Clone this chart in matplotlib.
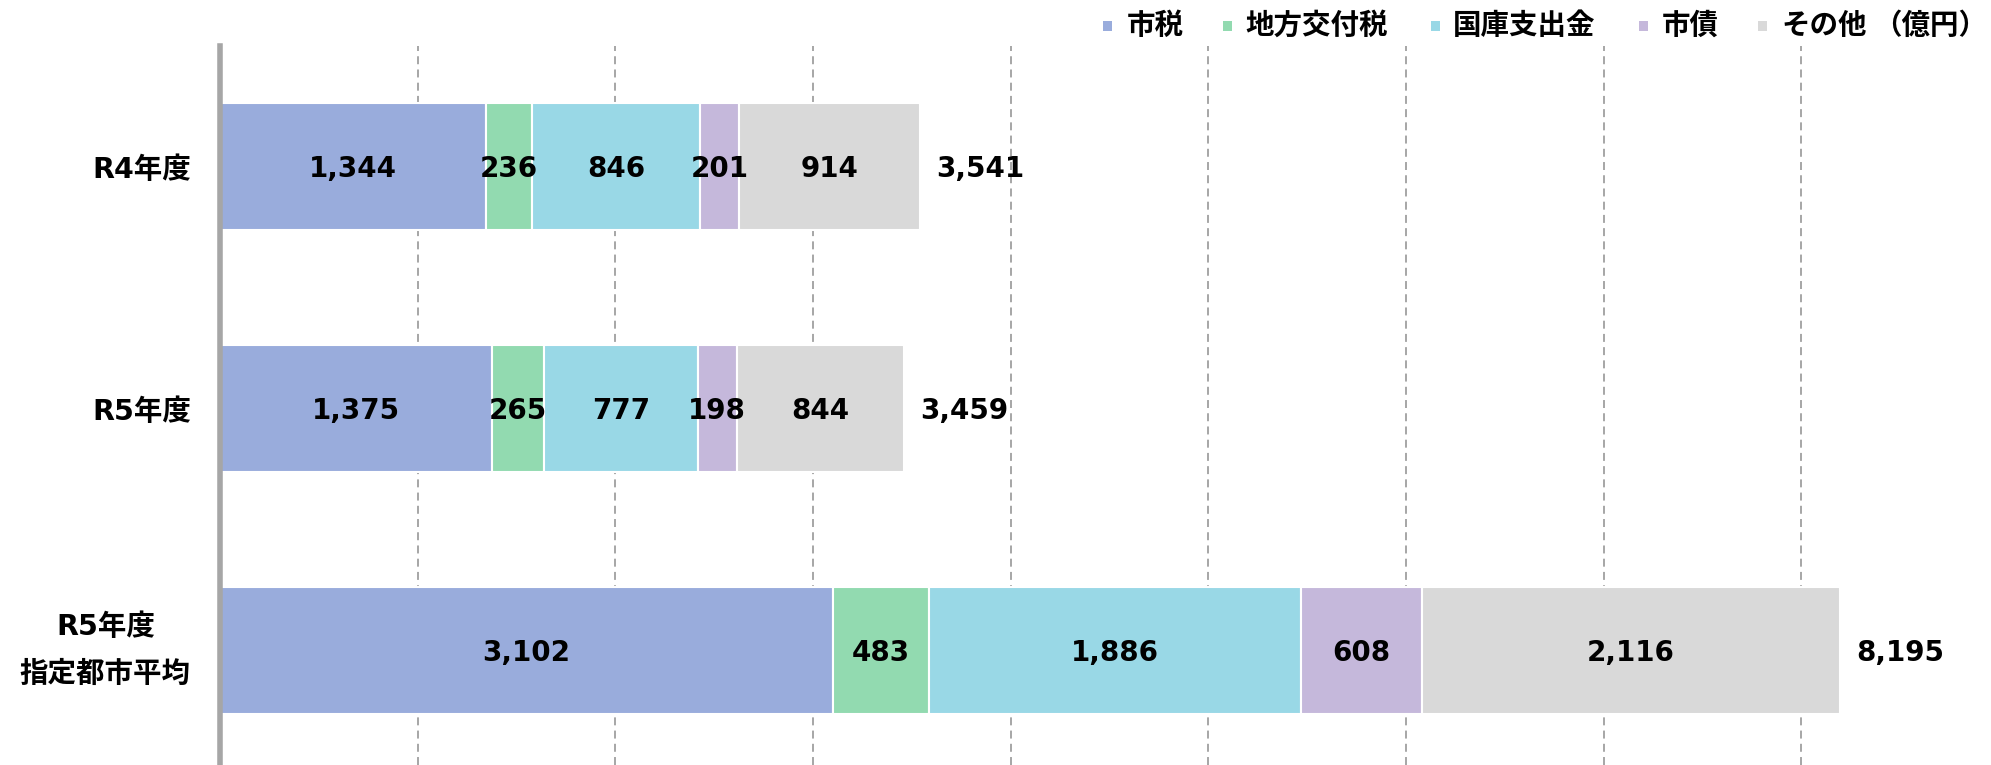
#
# Stacked horizontal bar chart of revenue breakdown (億円)
#

### Needed libraries ###

import matplotlib.pyplot as plt
from matplotlib.patches import Rectangle


### Data ###

categories = ['R4年度', 'R5年度', 'R5年度\n指定都市平均']

series_names = ['市税', '地方交付税', '国庫支出金', '市債', 'その他']

city_tax = [1344, 1375, 3102]
local_alloc_tax = [236, 265, 483]
national_subsidy = [846, 777, 1886]
city_bonds = [201, 198, 608]
other = [914, 844, 2116]

totals = [3541, 3459, 8195]

unit_label = '（億円）'


### Style ###

# DejaVu for the wide digits, Noto for the Japanese characters
plt.rcParams['font.family'] = ['DejaVu Sans', 'Noto Sans CJK JP']
plt.rcParams['font.weight'] = 'bold'

colors = ['#99ACDC', '#92DAB0', '#99D8E6', '#C5B8DB', '#D9D9D9']
value_size = 20
label_size = 20.5

W, H = 1991, 765


### Figure ###

fig = plt.figure(figsize=(W / 100, H / 100), dpi=100)
ax = fig.add_axes([220 / W, 0.0, 1 - 220 / W, 1 - 46 / H])

y = list(range(len(categories)))
bar_height = 0.526

# Stack the segments from the left
left = [0] * len(categories)
containers = []
all_series = [city_tax, local_alloc_tax, national_subsidy, city_bonds, other]
for values, color, name in zip(all_series, colors, series_names):
    bars = ax.barh(y, values, height=bar_height, left=left, color=color,
                   edgecolor='white', linewidth=1.5, label=name, zorder=3)
    containers.append(bars)
    left = [l + v for l, v in zip(left, values)]

# Values inside the segments
labels = []
for bars, values in zip(containers, all_series):
    labels += ax.bar_label(bars, labels=['{:,}'.format(v) for v in values], label_type='center',
                           fontsize=value_size, fontweight='bold', color='black')

# Totals at the end of each bar
labels += ax.bar_label(containers[-1], labels=['{:,}'.format(t) for t in totals], label_type='edge',
                       padding=12, fontsize=value_size, fontweight='bold', color='black')

# Nudge the numbers down a little so the digits sit on the bar centre
for ann in labels:
    ox, oy = ann.xyann
    ann.xyann = (ox, oy - 1.8)


### Axes ###

ax.set_xlim(0, 8960)
ax.set_ylim(2.473, -0.498)

ax.set_xticks(range(0, 9000, 1000))
ax.set_xticklabels([])
ax.set_yticks(y)
ax.set_yticklabels(categories, fontsize=label_size, fontweight='bold')
for lbl in ax.get_yticklabels():
    lbl.set_multialignment('center')
    lbl.set_linespacing(1.85)
    if '\n' in lbl.get_text():
        lbl.set_verticalalignment('center')
ax.tick_params(axis='both', length=0)
ax.tick_params(axis='y', pad=21)

ax.grid(axis='x', color='#A6A6A6', linewidth=1.4, linestyle=(0, (4.1, 2.7)), zorder=0)
ax.set_axisbelow(True)

for side in ['top', 'right', 'bottom']:
    ax.spines[side].set_visible(False)
ax.spines['left'].set_color('#A6A6A6')
ax.spines['left'].set_linewidth(4)
ax.spines['left'].set_zorder(4)


### Legend (placed by hand along the top) ###

legend_y = 1 - 26 / H
marker_x = [1103, 1223, 1431, 1639, 1758]
text_x = [1127, 1245, 1453, 1662, 1781]
for mx, tx, color, name in zip(marker_x, text_x, colors, series_names):
    fig.add_artist(Rectangle((mx / W, legend_y - 5 / H), 9 / W, 10 / H,
                             transform=fig.transFigure, facecolor=color, edgecolor='none'))
    fig.text(tx / W, legend_y, name, fontsize=label_size, fontweight='bold',
             ha='left', va='center')

fig.text(1873 / W, legend_y, unit_label, fontsize=label_size, fontweight='bold',
         ha='left', va='center')

plt.savefig('out.png', dpi=100)
